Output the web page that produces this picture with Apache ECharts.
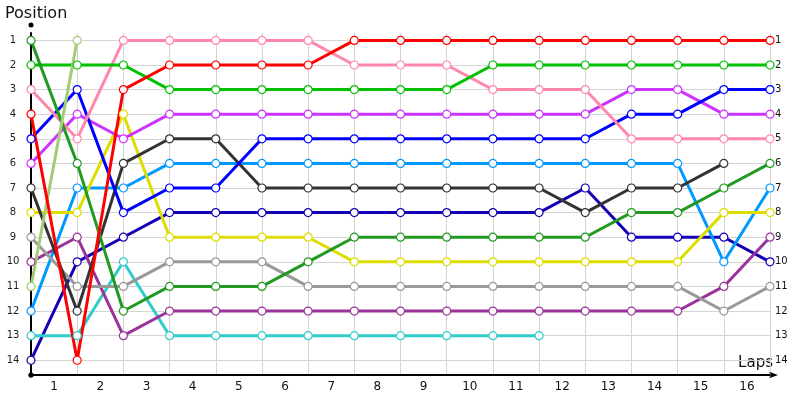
<!DOCTYPE html>
<html>
<head>
<meta charset="utf-8">
<script src="https://cdn.jsdelivr.net/npm/echarts@6/dist/echarts.min.js"></script>
<style>
  html, body { margin: 0; padding: 0; background: #fff; }
  #chart { width: 800px; height: 400px; }
</style>
</head>
<body>
<div id="chart"></div>
<script>
/* Lap chart: position of each car after every lap (index 0 = grid) */
const laps = ["1", "2", "3", "4", "5", "6", "7", "8", "9", "10", "11", "12", "13", "14", "15", "16"];

const carForest = [1, 6, 12, 11, 11, 11, 10, 9, 9, 9, 9, 9, 9, 8, 8, 7, 6];
const carGreen  = [2, 2, 2, 3, 3, 3, 3, 3, 3, 3, 2, 2, 2, 2, 2, 2, 2];
const carPink   = [3, 5, 1, 1, 1, 1, 1, 2, 2, 2, 3, 3, 3, 5, 5, 5, 5];
const carRed    = [4, 14, 3, 2, 2, 2, 2, 1, 1, 1, 1, 1, 1, 1, 1, 1, 1];
const carBlue   = [5, 3, 8, 7, 7, 5, 5, 5, 5, 5, 5, 5, 5, 4, 4, 3, 3];
const carViolet = [6, 4, 5, 4, 4, 4, 4, 4, 4, 4, 4, 4, 4, 3, 3, 4, 4];
const carBlack  = [7, 12, 6, 5, 5, 7, 7, 7, 7, 7, 7, 7, 8, 7, 7, 6];
const carYellow = [8, 8, 4, 9, 9, 9, 9, 10, 10, 10, 10, 10, 10, 10, 10, 8, 8];
const carGray   = [9, 11, 11, 10, 10, 10, 11, 11, 11, 11, 11, 11, 11, 11, 11, 12, 11];
const carPlum   = [10, 9, 13, 12, 12, 12, 12, 12, 12, 12, 12, 12, 12, 12, 12, 11, 9];
const carLime   = [11, 1];
const carSky    = [12, 7, 7, 6, 6, 6, 6, 6, 6, 6, 6, 6, 6, 6, 6, 10, 7];
const carCyan   = [13, 13, 10, 13, 13, 13, 13, 13, 13, 13, 13, 13];
const carNavy   = [14, 10, 9, 8, 8, 8, 8, 8, 8, 8, 8, 8, 7, 9, 9, 9, 10];

const cars = [
  { name: "Car 14", pos: carNavy,   color: "#1400b4" },
  { name: "Car 13", pos: carCyan,   color: "#33cccc" },
  { name: "Car 12", pos: carSky,    color: "#0099ff" },
  { name: "Car 10", pos: carPlum,   color: "#993399" },
  { name: "Car 9",  pos: carGray,   color: "#999999" },
  { name: "Car 8",  pos: carYellow, color: "#dddd00" },
  { name: "Car 7",  pos: carBlack,  color: "#333333" },
  { name: "Car 6",  pos: carViolet, color: "#cc33ff" },
  { name: "Car 5",  pos: carBlue,   color: "#0000ff" },
  { name: "Car 3",  pos: carPink,   color: "#ff88aa" },
  { name: "Car 2",  pos: carGreen,  color: "#00c000" },
  { name: "Car 1",  pos: carForest, color: "#229922" },
  { name: "Car 11", pos: carLime,   color: "#a3cc77" },
  { name: "Car 4",  pos: carRed,    color: "#ff0000" },
];

const FONT = "Tahoma, 'DejaVu Sans', sans-serif";

const chart = echarts.init(document.getElementById("chart"));

const series = cars.map(function (c) {
  return {
    name: c.name,
    type: "line",
    xAxisIndex: 0,
    yAxisIndex: 0,
    data: c.pos.map(function (p, i) { return [i, p]; }),
    symbol: "circle",
    symbolSize: 8,
    showAllSymbol: true,
    lineStyle: { color: c.color, width: 3 },
    itemStyle: { color: "#fff", borderColor: c.color, borderWidth: 1.2 },
    emphasis: { disabled: true },
    animation: false,
  };
});

/* integer positions only; the axis extent has half-row margins */
function posLabel(v) {
  return Number.isInteger(v) ? String(v) : "";
}

chart.setOption({
  backgroundColor: "#fff",
  animation: false,
  grid: { left: 31, right: 30, top: 33, bottom: 25, outerBoundsMode: "none", containLabel: false },
  graphic: [
    {
      type: "text",
      left: 5,
      top: 6,
      style: { text: "Position", font: "16px " + FONT, fill: "#111" },
    },
    {
      type: "text",
      right: 27,
      bottom: 29,
      style: { text: "Laps", font: "15px " + FONT, fill: "#111" },
    },
  ],
  xAxis: [
    {
      type: "value",
      min: 0,
      max: 16,
      interval: 1,
      axisLine: {
        show: true,
        lineStyle: { color: "#000", width: 2 },
        symbol: ["circle", "arrow"],
        symbolSize: [5, 9],
        symbolOffset: [0, 8],
      },
      axisTick: { show: false },
      axisLabel: { show: false },
      splitLine: { show: true, lineStyle: { color: "#d4d4d4", width: 1 } },
    },
    {
      type: "category",
      data: laps,
      boundaryGap: true,
      position: "bottom",
      axisLine: { show: false },
      axisTick: { show: false },
      splitLine: { show: false },
      axisLabel: { fontFamily: FONT, fontSize: 12, color: "#111", margin: 6 },
    },
  ],
  yAxis: [
    {
      type: "value",
      inverse: true,
      min: 0.7,
      max: 14.6,
      splitNumber: 14,
      axisLine: {
        show: true,
        onZero: false,
        lineStyle: { color: "#000", width: 2 },
        symbol: ["circle", "circle"],
        symbolSize: [5, 5],
        symbolOffset: [0, 8],
      },
      axisTick: { show: false },
      axisLabel: {
        showMinLabel: false,
        showMaxLabel: false,
        fontFamily: FONT,
        fontSize: 10,
        color: "#222",
        align: "center",
        margin: 18,
        formatter: posLabel,
      },
      splitLine: { show: true, showMinLine: false, showMaxLine: false, lineStyle: { color: "#d4d4d4", width: 1 } },
    },
    {
      type: "value",
      inverse: true,
      min: 0.7,
      max: 14.6,
      splitNumber: 14,
      position: "right",
      axisLine: { show: false },
      axisTick: { show: false },
      splitLine: { show: false },
      axisLabel: {
        showMinLabel: false,
        showMaxLabel: false,
        fontFamily: FONT,
        fontSize: 10,
        color: "#111",
        margin: 5,
        formatter: posLabel,
      },
    },
  ],
  series: series,
});
</script>
</body>
</html>
